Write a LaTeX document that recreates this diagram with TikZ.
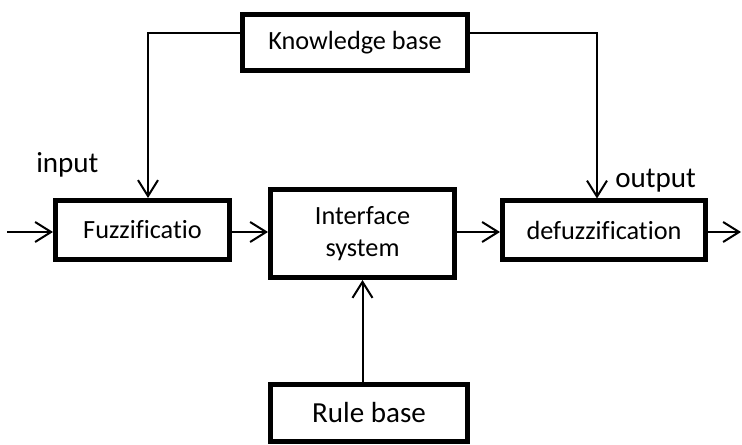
\documentclass[tikz,border=0pt]{standalone}
\usepackage{fontspec}
\setmainfont{Carlito}[Ligatures={NoCommon}]
\usetikzlibrary{arrows.meta,calc}
\begin{document}
\begin{tikzpicture}[x=0.75pt,y=-0.75pt,
  box/.style={draw,line width=3.75pt,inner sep=0pt,align=center,
    font=\fontsize{19.7}{24}\selectfont},
  bigtext/.style={font=\fontsize{21.8}{25}\selectfont},
  lbl/.style={inner sep=0pt,font=\fontsize{21.8}{25}\selectfont},
  arr/.style={line width=1.5pt,-{Straight Barb[length=12pt,width=15pt,line width=1.5pt]}},
  conn/.style={line width=1.5pt}]
\useasboundingbox (0,0) rectangle (742,445);
\node[box,minimum width=168.75pt,minimum height=42pt] (kb) at (355,42.5) {Knowledge base};
\node[box,minimum width=130.5pt,minimum height=44.25pt] (fz) at (142.5,230) {Fuzzificatio};
\node[box,minimum width=138pt,minimum height=66pt] (is) at (362.5,233.5) {Interface\\system};
\node[box,minimum width=152.25pt,minimum height=44.25pt] (de) at (604,230.5) {defuzzification};
\node[box,bigtext,minimum width=147.75pt,minimum height=42.75pt] (rb) at (369,413) {Rule base};
\node[lbl,anchor=base west] (inp) at (36,173) {input};
\node[lbl,anchor=base west] (outp) at (615,188) {output};
\coordinate (inL) at (7,232);
\coordinate (outR) at (741,232);
\draw[arr] (inL) -- (inL -| fz.west);
\draw[arr] (fz.east |- inL) -- (inL -| is.west);
\draw[arr] (is.east |- inL) -- (inL -| de.west);
\draw[arr] (de.east |- outR) -- (outR);
\draw[arr] (is.south |- rb.north) -- (is.south);
\draw[arr] ($(kb.west)+(0,-9.5)$) -| ($(fz.north)+(5.5,0)$);
\draw[arr] ($(kb.east)+(0,-9.5)$) -| ($(de.north)+(-7,0)$);
\end{tikzpicture}
\end{document}
